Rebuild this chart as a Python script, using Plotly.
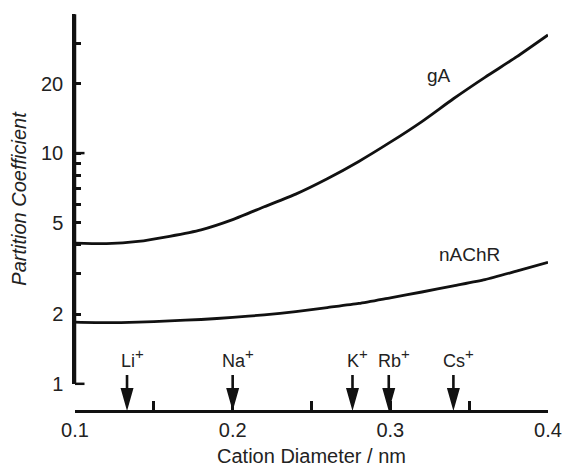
import math
import plotly.graph_objects as go

# ---- data ----
diam = [0.10, 0.12, 0.14, 0.16, 0.18, 0.20, 0.22, 0.24, 0.26, 0.28, 0.30, 0.32, 0.34, 0.36, 0.38, 0.40]
gA = [4.07, 4.05, 4.14, 4.36, 4.65, 5.15, 5.85, 6.64, 7.74, 9.20, 11.15, 13.7, 17.2, 21.3, 26.1, 32.5]
nAChR = [1.85, 1.84, 1.85, 1.875, 1.90, 1.94, 1.99, 2.055, 2.14, 2.23, 2.36, 2.50, 2.66, 2.83, 3.08, 3.36]

ions = ["Li", "Na", "K", "Rb", "Cs"]
ion_diam = [0.133, 0.200, 0.276, 0.299, 0.340]

y_major = [1, 2, 5, 10, 20]
y_major_text = ["1", "2", "5", "10", "20"]
y_minor = [3, 4, 6, 7, 8, 9, 30, 40]
y_long = [1, 10]
x_major = [0.1, 0.2, 0.3, 0.4]
x_major_text = ["0.1", "0.2", "0.3", "0.4"]

FONT = "Liberation Sans, Arial, Helvetica, sans-serif"
INK = "#111111"
TXT = "#222222"

fig = go.Figure()
for ys in (gA, nAChR):
    fig.add_trace(go.Scatter(x=diam, y=ys, mode="lines",
                             line=dict(color=INK, width=2.8, shape="spline", smoothing=0.6),
                             showlegend=False, hoverinfo="skip"))

W, H = 563, 469
mt, mb, ml, mr = 14, 58, 75, 15
ph = H - mt - mb          # px from top of y axis to x axis line
gap = 27                  # px between value 1 and the x axis line
ydom = [gap / ph, 1]
eps = 0.0008
yr = [0 - eps, math.log10(40) + eps]


def yfrac(v):
    """paper fraction of a y value on the log axis (for axis decorations)"""
    t = (math.log10(v) - yr[0]) / (yr[1] - yr[0])
    return ydom[0] + t * (ydom[1] - ydom[0])


fig.update_layout(
    template="none",
    width=W, height=H, margin=dict(l=ml, r=mr, t=mt, b=mb, pad=0),
    paper_bgcolor="white", plot_bgcolor="white",
    font=dict(family=FONT, size=20, color=TXT),
    xaxis=dict(range=[0.1, 0.4], showgrid=False, zeroline=False, automargin=False,
               anchor="free", position=0,
               showline=True, linecolor=INK, linewidth=2.5,
               tickmode="array", tickvals=x_major, ticktext=x_major_text,
               ticks="inside", ticklen=9, tickwidth=2.5, tickcolor=INK,
               ticklabelstandoff=0,
               minor=dict(tickmode="linear", tick0=0.1, dtick=0.05, ticks="inside",
                          ticklen=9, tickwidth=2.5, tickcolor=INK, showgrid=False),
               tickfont=dict(size=20, color=TXT),
               title=dict(text="Cation Diameter / nm", font=dict(size=20, color=TXT), standoff=9)),
    yaxis=dict(type="log", range=yr, domain=ydom, showgrid=False, zeroline=False,
               automargin=False, showline=True, linecolor=INK, linewidth=2.5,
               tickmode="array", tickvals=y_major, ticktext=y_major_text,
               ticks="inside", ticklen=6, tickwidth=2.5, tickcolor=INK,
               ticklabelstandoff=5,
               minor=dict(tickmode="array", tickvals=y_minor, ticks="inside",
                          ticklen=6, tickwidth=2.5, tickcolor=INK, showgrid=False),
               tickfont=dict(size=20, color=TXT),
               title=dict(text="<i>Partition Coefficient</i>", font=dict(size=20, color=TXT), standoff=10)),
)

# y axis line from 1 to 40 (paper referenced)
fig.add_shape(type="line", xref="paper", yref="paper", x0=0, x1=0,
              y0=yfrac(1), y1=yfrac(40), line=dict(color=INK, width=2.5), layer="above")

# longer ticks at 1 and 10
for v in y_long:
    fig.add_shape(type="line", xref="paper", yref="paper", xsizemode="pixel", xanchor=0,
                  x0=0, x1=9.5, y0=yfrac(v), y1=yfrac(v), line=dict(color=INK, width=2.5))

# arrows for ions
arrow_path = "M0,0 L-6.5,23 L-1.3,23 L-1.3,36 L1.3,36 L1.3,23 L6.5,23 Z"
for name, d in zip(ions, ion_diam):
    fig.add_shape(type="path", xref="x", yref="paper", xsizemode="pixel", ysizemode="pixel",
                  xanchor=d, yanchor=0, path=arrow_path,
                  fillcolor=INK, line=dict(color=INK, width=0))
    fig.add_annotation(x=d, y=0, xref="x", yref="paper",
                       text=name + "<sup><span style='font-size:15px'>+</span></sup>",
                       showarrow=False, xanchor="center", yanchor="bottom",
                       xshift=5, yshift=38, font=dict(size=18, color=TXT))

# curve labels
fig.add_annotation(x=0.331, y=math.log10(21.8), text="gA", showarrow=False,
                   font=dict(size=19, color=TXT))
fig.add_annotation(x=0.35, y=math.log10(3.62), text="nAChR", showarrow=False,
                   font=dict(size=19, color=TXT))

fig.write_html("out.html")
